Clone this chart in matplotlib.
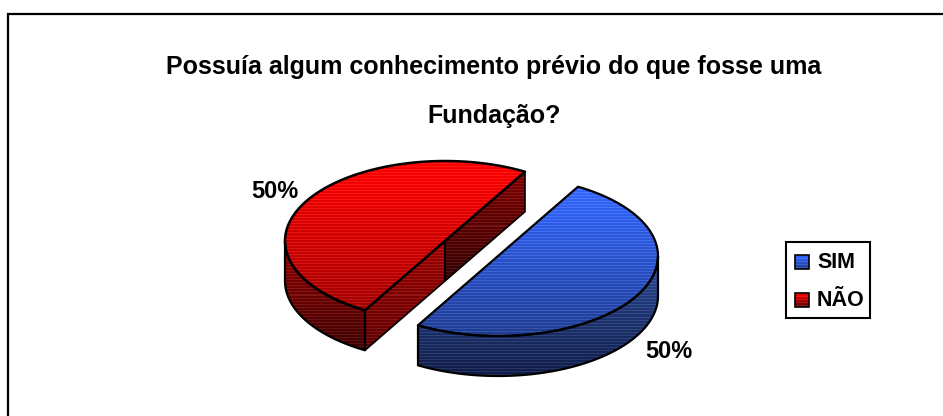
import numpy as np
import matplotlib
matplotlib.use("Agg")
import matplotlib.pyplot as plt
from matplotlib.patches import PathPatch, Rectangle
from matplotlib.path import Path

#===== DATA =====
TITLE = "Possuía algum conhecimento prévio do que fosse uma\nFundação?"
categories = ["SIM", "NÃO"]
values = [50, 50]
labels = ["50%", "50%"]

#===== LAYOUT (pixels) =====
W, H = 943, 416
RX, RY = 160, 80
DEPTH = 40
START = 60  # angle where the cut starts
CENTERS = {"SIM": (498, 256), "NÃO": (445, 241)}

plt.rcParams["font.family"] = ["Liberation Sans", "DejaVu Sans"]

fig = plt.figure(figsize=(W / 100, H / 100), dpi=100)
ax = fig.add_axes([0, 0, 1, 1])
ax.set_xlim(0, W)
ax.set_ylim(H, 0)
ax.axis("off")


def hexrgb(c):
    return np.array(matplotlib.colors.to_rgb(c))


def banded(top, bottom, n):
    # vertical gradient with the lighter scan lines of the old chart export
    t = np.linspace(0, 1, n)[:, None]
    img = hexrgb(top) * (1 - t) + hexrgb(bottom) * t
    img[::3] = np.clip(img[::3] + 0.09, 0, 1)
    return img[:, None, :]


def fill(verts, top, bottom, lw=1.6):
    verts = np.array(verts)
    y0, y1 = verts[:, 1].min(), verts[:, 1].max()
    x0, x1 = verts[:, 0].min(), verts[:, 0].max()
    path = Path(np.vstack([verts, verts[0]]), closed=True)
    im = ax.imshow(banded(top, bottom, max(int(y1 - y0), 2)), extent=(x0, x1, y1, y0),
                   aspect="auto", interpolation="nearest", zorder=2)
    patch = PathPatch(path, fc="none", ec="black", lw=lw, joinstyle="round", zorder=3)
    ax.add_patch(patch)
    im.set_clip_path(patch)


def arc(center, a0, a1, n=120):
    t = np.radians(np.linspace(a0, a1, n))
    return np.column_stack([center[0] + RX * np.cos(t), center[1] - RY * np.sin(t)])


def down(pts):
    return pts + np.array([0, DEPTH])


total = sum(values)
sweep_sim = 360 * values[0] / total
sweep_nao = 360 * values[1] / total

# blue slice goes clockwise from the start angle
c = CENTERS["SIM"]
a_end = START - sweep_sim
wall = arc(c, 0, a_end)
fill(np.vstack([wall, down(wall)[::-1]]), "#2b4a96", "#101c48")
fill(np.vstack([[c], arc(c, START, a_end)]), "#3366ff", "#1f3c90")

# red slice goes the other way
c = CENTERS["NÃO"]
a_end = START + sweep_nao
wall = arc(c, 180, a_end)
fill(np.vstack([wall, down(wall)[::-1]]), "#960000", "#3c0000")
p_a, p_b = arc(c, START, START, 1)[0], arc(c, a_end, a_end, 1)[0]
c_arr = np.array(c, dtype=float)
fill([c_arr, p_a, down(p_a), down(c_arr)], "#800000", "#300000", lw=1.2)
fill([c_arr, p_b, down(p_b), down(c_arr)], "#a00000", "#5a0000", lw=1.2)
fill(np.vstack([[c], arc(c, START, a_end)]), "#ff0000", "#a00000", lw=1.8)

# percent labels
ax.text(275, 192, labels[1], fontsize=17, fontweight="bold", ha="center", va="center", zorder=5)
ax.text(669, 351, labels[0], fontsize=17, fontweight="bold", ha="center", va="center", zorder=5)

# title
ax.text(494, 91.5, TITLE, fontsize=18, fontweight="bold", ha="center", va="center",
        linespacing=2.3, zorder=5)

# legend
ax.add_patch(Rectangle((786, 242), 84, 76, fc="white", ec="black", lw=1.5, zorder=4))
swatches = [("#3366ff", "#1f3c90", 262), ("#ff0000", "#600000", 300)]
for name, (top, bottom, yc) in zip(categories, swatches):
    ax.imshow(banded(top, bottom, 14), extent=(795, 809, yc + 7, yc - 7), aspect="auto",
              interpolation="nearest", zorder=5)
    ax.add_patch(Rectangle((795, yc - 7), 14, 14, fc="none", ec="black", lw=1.2, zorder=6))
    ax.text(817, yc, name, fontsize=15.5, fontweight="bold", va="center", zorder=5)

# outer frame: only top and left fall inside the picture
ax.plot([8, 8, W], [H, 14, 14], color="black", lw=1.6, zorder=1, solid_joinstyle="miter")

ax.set_xlim(0, W)
ax.set_ylim(H, 0)
fig.savefig("out.png", dpi=100)
